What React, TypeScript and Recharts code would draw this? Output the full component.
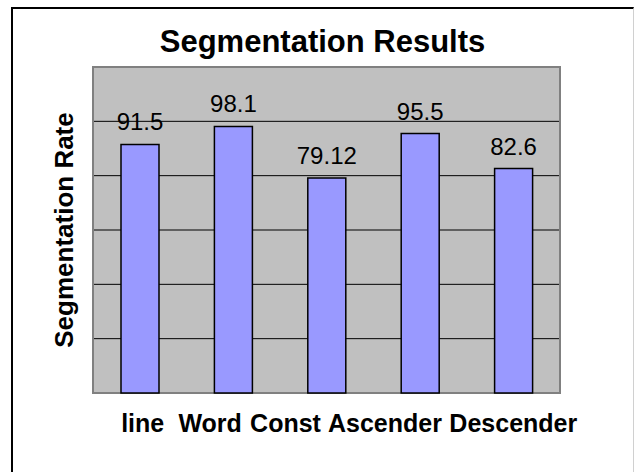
import React from "react";
import {
  BarChart,
  Bar,
  XAxis,
  YAxis,
  CartesianGrid,
  LabelList,
  ReferenceArea,
} from "recharts";

// values
const categories = ["line", "Word", "Const", "Ascender", "Descender"];
const rates = [91.5, 98.1, 79.12, 95.5, 82.6];
const yTicks = [0, 20, 40, 60, 80, 100, 120];

const FONT = '"Liberation Sans", Arial, sans-serif';

// the category labels are packed together like in the original, not centred on bars
const labelShift = [3, -23, -41, -35, 0];

function CategoryTick(props: any) {
  const { x, y, payload, index } = props;
  return (
    <text
      x={x + (labelShift[index] || 0)}
      y={y}
      dy={26}
      textAnchor="middle"
      fontFamily={FONT}
      fontSize={25}
      fontWeight="bold"
      fill="#000"
    >
      {payload.value}
    </text>
  );
}

export default function App() {
  const data = categories.map((name, i) => ({ name, rate: rates[i] }));

  return (
    <div
      style={{
        position: "absolute",
        left: 0,
        top: 0,
        width: 634,
        height: 472,
        background: "#fff",
        overflow: "hidden",
        fontFamily: FONT,
      }}
    >
      {/* outer frame */}
      <div
        style={{
          position: "absolute",
          left: 11,
          top: 7,
          width: 620,
          height: 480,
          borderTop: "2px solid #000",
          borderLeft: "2px solid #000",
          borderRight: "1px solid #d0d0d0",
        }}
      />
      <div
        style={{
          position: "absolute",
          left: 0,
          width: 645,
          top: 24,
          textAlign: "center",
          fontSize: 31,
          fontWeight: "bold",
          lineHeight: "36px",
          color: "#000",
        }}
      >
        Segmentation Results
      </div>
      <div style={{ position: "absolute", left: 0, top: 0 }}>
        <BarChart
          width={634}
          height={472}
          data={data}
          margin={{ top: 67, right: 74, bottom: 39, left: 0 }}
        >
          <CartesianGrid
            vertical={false}
            stroke="#000"
            strokeWidth={1}
            fill="#C0C0C0"
            fillOpacity={1}
          />
          <XAxis
            dataKey="name"
            axisLine={false}
            tickLine={false}
            tickSize={0}
            tickMargin={13}
            height={40}
            interval={0}
            tick={<CategoryTick />}
          />
          <YAxis
            width={93}
            domain={[0, 120]}
            ticks={yTicks}
            axisLine={false}
            tickLine={false}
            tick={() => <g />}
            label={{
              value: "Segmentation Rate",
              angle: -90,
              position: "insideLeft",
              offset: 64,
              style: {
                textAnchor: "middle",
                fontSize: 26,
                fontWeight: "bold",
                fill: "#000",
                fontFamily: FONT,
              },
            }}
          />
          <ReferenceArea
            y1={0}
            y2={120}
            fill="none"
            fillOpacity={0}
            stroke="#808080"
            strokeWidth={2}
          />
          <Bar
            dataKey="rate"
            fill="#9999FF"
            stroke="#000"
            strokeWidth={1.5}
            barSize={38}
            isAnimationActive={false}
          >
            <LabelList
              dataKey="rate"
              position="top"
              offset={14}
              style={{ fontSize: 24, fill: "#000", fontFamily: FONT }}
            />
          </Bar>
        </BarChart>
      </div>
    </div>
  );
}
